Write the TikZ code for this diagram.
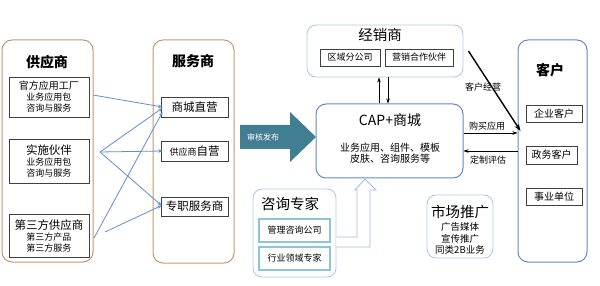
\documentclass[tikz,border=0pt]{standalone}
\usepackage{fontspec}
\setmainfont{Noto Sans CJK SC}
\definecolor{partnerBrown}{RGB}{200,150,108}
\definecolor{mallBlue}{RGB}{96,138,196}
\definecolor{paleBlue}{RGB}{176,202,232}
\definecolor{expertCyan}{RGB}{140,196,216}
\definecolor{linkBlue}{RGB}{98,142,204}
\definecolor{auditTeal}{RGB}{66,126,146}
\usepackage{tikz}
\usetikzlibrary{arrows.meta,positioning,calc,shadows}

\tikzset{
  sidegroup/.style={draw=partnerBrown, line width=1pt, rounded corners=10pt},
  mallgroup/.style={draw=mallBlue, line width=1pt, rounded corners=10pt},
  palegroup/.style={draw=paleBlue, line width=0.9pt, rounded corners=9pt, fill=white},
  itembox/.style={draw=black!75, line width=0.9pt, fill=white, inner sep=1pt,
    align=center, font=\fontsize{9}{11}\selectfont,
    drop shadow={opacity=0.3, shadow xshift=1pt, shadow yshift=-1pt}},
  expertbox/.style={draw=expertCyan, line width=1.2pt, fill=white, inner sep=1pt,
    font=\fontsize{9}{11}\selectfont},
  headtxt/.style={font=\bfseries\fontsize{14}{16}\selectfont},
  titletxt/.style={font=\fontsize{14.5}{16}\selectfont},
  smalltxt/.style={font=\fontsize{9}{11}\selectfont, align=center},
  link/.style={draw=linkBlue, line width=0.8pt, -{Stealth[length=4.5pt,width=3.5pt]}},
  flow/.style={draw=black, line width=0.6pt, -{Stealth[length=5pt,width=3.5pt]}}
}

\begin{document}
\begin{tikzpicture}[x=1pt, y=-1pt]
  \useasboundingbox (0,0) rectangle (600,286);

  % suppliers
  \node[sidegroup, minimum width=91pt, minimum height=222pt] (supOuter) at (47.5,151) {};
  \node[headtxt] (supTitle) at (47,62) {供应商};
  \node[itembox, minimum width=80pt, minimum height=40pt] (sup1) at (49,97)
    {{\fontsize{10}{12}\selectfont 官方应用工厂}\\业务应用包\\咨询与服务};
  \node[itembox, minimum width=80pt, minimum height=44pt] (sup2) at (49,161)
    {{\fontsize{11.5}{14}\selectfont 实施伙伴}\\业务应用包\\咨询与服务};
  \node[itembox, minimum width=80pt, minimum height=43pt] (sup3) at (49,235.5)
    {{\fontsize{11.5}{14}\selectfont 第三方供应商}\\第三方产品\\第三方服务};

  % service providers
  \node[sidegroup, minimum width=81pt, minimum height=223pt] (svOuter) at (193.5,151.5) {};
  \node[headtxt] (svTitle) at (193,61) {服务商};
  \node[itembox, font=\fontsize{11.5}{13}\selectfont, minimum width=67pt, minimum height=20pt] (svMall) at (194.5,107) {商城直营};
  \node[itembox, minimum width=67pt, minimum height=20pt] (svSelf) at (194.5,151)
    {供应商{\fontsize{11.5}{13}\selectfont 自营}};
  \node[itembox, font=\fontsize{11.5}{13}\selectfont, minimum width=67pt, minimum height=19pt] (svPro) at (194.5,206.5) {专职服务商};

  \coordinate (s1out) at (93,95);
  \coordinate (s2out) at (100,152);
  \coordinate (s3outA) at (94,238);
  \coordinate (s3outB) at (105,232);
  \draw[link] (s1out) -- ([xshift=2pt]svMall.west);
  \draw[link] (s2out) -- ([xshift=2pt,yshift=-1pt]svMall.west);
  \draw[link] (s2out) -- ([xshift=2pt]svSelf.west);
  \draw[link] (s2out) -- ([xshift=1pt,yshift=1pt]svPro.west);
  \draw[link] (s3outA) -- ([xshift=2pt,yshift=-5pt]svMall.west);
  \draw[link] (s3outB) -- ([xshift=1pt,yshift=1pt]svPro.west);

  % release arrow
  \fill[auditTeal] (240,125) -- (290,125) -- (290,112) -- (316,137) -- (290,162)
    -- (290,149) -- (240,149) -- cycle;
  \node[font=\fontsize{8}{9}\selectfont, text=white] (audit) at (263,137) {审核发布};

  % mall
  \node[mallgroup, minimum width=147pt, minimum height=74pt] (cap) at (389.5,141) {};
  \node[font=\fontsize{14}{16}\selectfont] (capTitle) at (390,120) {CAP+商城};
  \node[font=\fontsize{10}{11.5}\selectfont, align=center] (capText) at (390,153)
    {业务应用、组件、模板\\皮肤、咨询服务等};

  % distributors
  \node[palegroup, minimum width=156pt, minimum height=52pt] (dist) at (385,51) {};
  \node[titletxt] (distTitle) at (380,35) {经销商};
  \node[itembox, minimum width=60pt, minimum height=17pt] (dist1) at (350,57.5) {区域分公司};
  \node[itembox, minimum width=68pt, minimum height=17pt] (dist2) at (419,57.5) {营销合作伙伴};
  \draw[flow] ([xshift=-10.5pt]cap.north) -- ([xshift=-10.5pt]cap.north |- dist.south);
  \draw[flow] ([xshift=-1.5pt]cap.north |- dist.south) -- ([xshift=-1.5pt]cap.north);

  % consultants
  \node[palegroup, minimum width=83pt, minimum height=88pt] (cons) at (294.5,233) {};
  \node[titletxt] (consTitle) at (290,204) {咨询专家};
  \node[expertbox, minimum width=71pt, minimum height=23pt] (cons1) at (294.5,230.5) {管理咨询公司};
  \node[expertbox, minimum width=71pt, minimum height=23pt] (cons2) at (294.5,258.5) {行业领域专家};
  \draw[paleBlue!80!mallBlue, line width=0.9pt, fill=white]
    (cons.east |- 0,237) -- (357,237) -- (357,190) -- (355,190) -- (365,179)
    -- (376,190) -- (370,190) -- (370,247) -- (cons.east |- 0,247);

  % marketing
  \node[palegroup, minimum width=66pt, minimum height=63pt] (market) at (460,226.5) {};
  \node[titletxt] (marketTitle) at (460,212) {市场推广};
  \node[smalltxt, font=\fontsize{9.5}{11.5}\selectfont] (marketText) at (460,238.5)
    {广告媒体\\宣传推广\\同类2B业务};

  % customers
  \node[mallgroup, minimum width=69pt, minimum height=222pt] (cust) at (552.5,151) {};
  \node[headtxt] (custTitle) at (550,70) {客户};
  \node[itembox, font=\fontsize{10}{12}\selectfont, minimum width=56pt, minimum height=17pt] (cust1) at (554,113.5) {企业客户};
  \node[itembox, font=\fontsize{10}{12}\selectfont, minimum width=51pt, minimum height=18pt] (cust2) at (551.5,155) {政务客户};
  \node[itembox, font=\fontsize{10}{12}\selectfont, minimum width=56pt, minimum height=17pt] (cust3) at (554,196.5) {事业单位};

  \draw[draw=black, line width=1.4pt, -{Stealth[length=7pt,width=5pt]}]
    ([xshift=5pt]dist.east) -- ([xshift=3pt,yshift=20pt]cust.west);
  \node[smalltxt] (custRun) at (483,87) {客户经营};
  \draw[flow] ([yshift=8pt]cap.east) -- ([yshift=8pt]cap.east -| cust.west);
  \node[smalltxt] (buyApp) at (487,126) {购买应用};
  \draw[flow] ([yshift=-10pt]cap.east -| cust.west) -- ([yshift=-10pt]cap.east);
  \node[smalltxt] (evalApp) at (488,160) {定制评估};
\end{tikzpicture}
\end{document}
